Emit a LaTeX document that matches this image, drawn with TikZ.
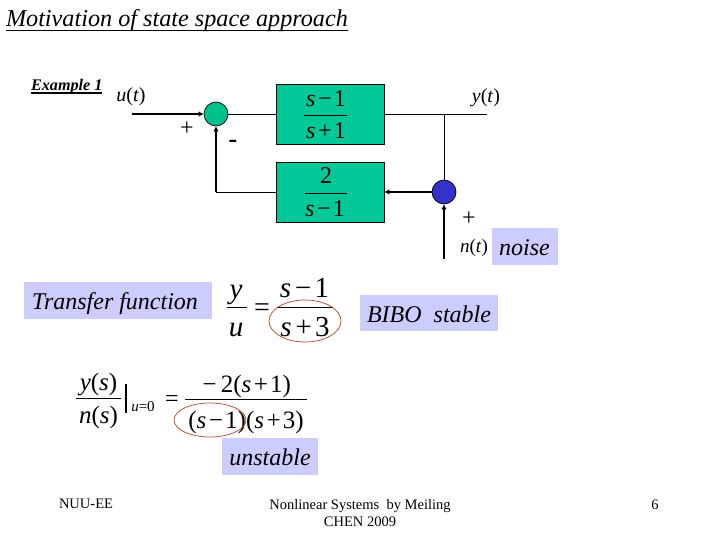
\documentclass[tikz,border=0pt]{standalone}
\usepackage{fontspec}
\setmainfont{Liberation Serif}
\usetikzlibrary{arrows.meta}
\definecolor{boxgreen}{HTML}{00C896}
\definecolor{sumgreen}{HTML}{00C08C}
\definecolor{sumblue}{HTML}{3333CC}
\definecolor{lav}{HTML}{CCCCFF}
\definecolor{ringc}{HTML}{A84A28}
\newcommand{\fs}[1]{\fontsize{#1}{#1}\selectfont}
\newcommand{\up}[1]{\textup{#1}}
\tikzset{
 x=1pt,y=-1pt,
 block/.style={draw=black,fill=boxgreen,line width=.8pt,minimum width=108pt,minimum height=60pt,inner sep=0pt},
 sumj/.style={circle,draw=black,line width=.7pt,minimum size=24pt,inner sep=0pt},
 thin line/.style={line width=.8pt},
 thick arrow/.style={line width=1.6pt,-{Latex[length=5pt,width=5.5pt]}},
 lab/.style={inner sep=0pt,outer sep=0pt},
 eq/.style={inner sep=0pt,outer sep=0pt,font=\fs{24}\itshape},
 sig/.style={inner sep=0pt,font=\fs{20}\itshape},
 tag/.style={fill=lav,inner sep=0pt,font=\fs{24}\itshape,anchor=center,text height=27pt,text depth=10pt},
 fracbar/.style={line width=.8pt},
 ring/.style={draw=ringc,line width=.7pt},
}
\begin{document}
\begin{tikzpicture}
\useasboundingbox[fill=white] (0,0) rectangle (720,540);
% title
\node[lab,anchor=base west,font=\fs{24.2}\itshape] (title) at (6,27) {Motivation of state space approach};
\draw[line width=1.8pt] (6,30.5) -- (348,30.5);
\node[lab,anchor=base west,font=\fs{16.2}\itshape\bfseries] (ex) at (31,90.5) {Example 1};
\draw[line width=1.3pt] (31,93) -- (102,93);
% blocks
\node[block] (g1) at (330,114) {};
\node[block] (g2) at (330,192) {};
\node[sumj,fill=sumgreen] (s1) at (216,114) {};
\node[sumj,fill=sumblue] (s2) at (444,192) {};
\coordinate (uin) at (132,114);
\coordinate (yout) at (487,114);
\coordinate (tap) at (444,114);
\coordinate (nin) at (444,259);
\coordinate (corner) at (216,192);
\draw[thick arrow] (uin) -- (s1);
\draw[thin line] (s1) -- (g1);
\draw[thin line] (g1) -- (yout);
\draw[thin line] (tap) -- (s2);
\draw[thick arrow] (s2) -- (g2);
\draw[thick arrow] (nin) -- (s2);
\draw[thin line] (g2) -- (corner);
\draw[thick arrow] (corner) -- (s1);
% block fractions
\node[eq,anchor=base] (n1) at (326,107) {s\kern1pt\textminus\kern1pt\up{1}};
\draw[fracbar] (304,115) -- (347,115);
\node[eq,anchor=base] (d1) at (326,139) {s\kern1pt+\kern1pt\up{1}};
\node[eq,anchor=base,font=\fs{24}] (n2) at (326,184) {2};
\draw[fracbar] (305,193) -- (347,193);
\node[eq,anchor=base] (d2) at (325,217) {s\kern1pt\textminus\kern1pt\up{1}};
% signal labels
\node[sig,anchor=base] (u) at (131,102) {u\up{(}t\up{)}};
\node[sig,anchor=base] (y) at (486,103) {y\up{(}t\up{)}};
\node[sig,anchor=base,font=\fs{19}\itshape] (n) at (474,252) {n\up{(}t\up{)}};
\node[lab,font=\fs{24}] (p1) at (187,129) {+};
\node[lab,font=\fs{24}] (p2) at (469,219) {+};
\node[lab,font=\fs{26}\bfseries] (m1) at (233,144) {-};
% tags
\node[tag,minimum width=66pt] (noise) at (525,246.5) {noise\kern1pt};
\node[tag,minimum width=188pt] (tf) at (118,300.5) {Transfer function\kern6pt};
\node[tag,minimum width=138pt,text depth=9pt] (bibo) at (429,313) {BIBO\ \ stable};
\node[tag,minimum width=96pt] (unst) at (270,456.5) {unstable};
% first equation
\node[eq,anchor=base,font=\fs{29}\itshape] (ey) at (236,298) {y};
\draw[fracbar] (227,307) -- (247,307);
\node[eq,anchor=base,font=\fs{29}\itshape] (eu) at (236,336) {u};
\node[eq,anchor=base,font=\fs{28}] (ee) at (262,316) {=};
\node[eq,anchor=base,font=\fs{29}\itshape] (en) at (304.5,297) {s\kern2pt\textminus\kern2pt\up{1}};
\draw[fracbar] (277,307) -- (333,307);
\node[eq,anchor=base,font=\fs{29}\itshape] (ed) at (305,336) {s\kern2pt+\kern2pt\up{3}};
\draw[ring] (305,321) ellipse [x radius=36,y radius=21];
% second equation
\node[eq,anchor=base,font=\fs{25}\itshape] (qn) at (98.5,390) {y\up{(}s\up{)}};
\draw[fracbar] (76,398) -- (121,398);
\node[eq,anchor=base,font=\fs{25}\itshape] (qd) at (98.5,423) {n\up{(}s\up{)}};
\draw[line width=1.1pt] (126,384) -- (126,413);
\node[lab,anchor=base,font=\fs{15}\itshape] (cond) at (143,411) {u\up{=0}};
\node[eq,anchor=base,font=\fs{24}] (qe) at (172,406) {=};
\node[eq,anchor=base,font=\fs{25}\itshape] (rn) at (246,392) {\textminus\kern3pt\up{2(}s\kern1pt+\kern1pt\up{1)}};
\draw[fracbar] (185,399) -- (307,399);
\node[eq,anchor=base,font=\fs{25}\itshape] (rd) at (246,428) {\up{(}s\kern1pt\textminus\kern1pt\up{1)(}s\kern1pt+\kern1pt\up{3)}};
\draw[ring] (210,420) ellipse [x radius=36,y radius=17];
% footer
\node[lab,anchor=base,font=\fs{14.5}] (f1) at (86,508) {NUU-EE};
\node[lab,anchor=base,font=\fs{14.5}] (f2) at (360,509) {Nonlinear Systems\ \ by Meiling};
\node[lab,anchor=base,font=\fs{14.5}] (f3) at (360,526) {CHEN 2009};
\node[lab,anchor=base,font=\fs{14.5}] (f4) at (655,509) {6};
\end{tikzpicture}
\end{document}
